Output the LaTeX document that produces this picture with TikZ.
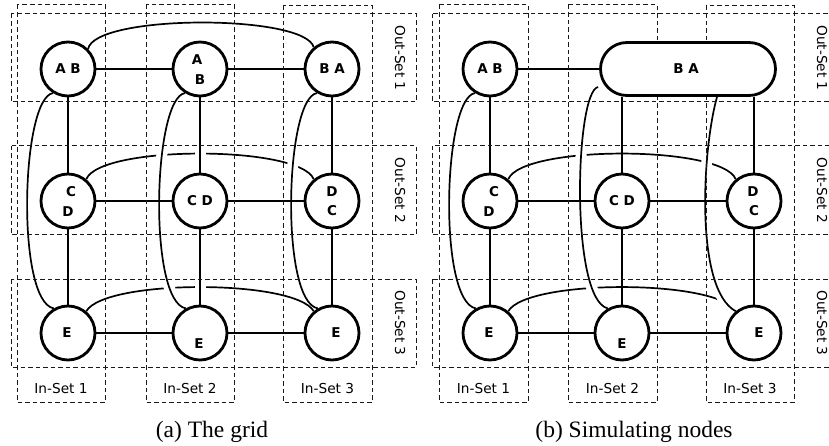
\documentclass[tikz,border=0pt]{standalone}
\usepackage{fontspec}
\setmainfont{Liberation Serif}
\newfontfamily\dv{DejaVu Sans}
\newfontfamily\dvb{DejaVu Sans Bold}
\usetikzlibrary{shapes.misc,calc}
\pgfdeclarelayer{edges}
\pgfdeclarelayer{dash}
\pgfsetlayers{edges,dash,main}
\tikzset{
  vtx/.style={circle, draw, line width=2.8pt, minimum size=54pt, inner sep=0pt, fill=white},
  wide/.style={rounded rectangle, draw, line width=2.8pt, minimum width=175pt, minimum height=53pt, inner sep=0pt, fill=white},
  lbl/.style={inner sep=0pt, font=\dvb\fontsize{13.5}{13.5}\selectfont},
  setbox/.style={draw=black!90, line width=1pt, dash pattern=on 4.5pt off 3pt},
  settxt/.style={inner sep=0pt, font=\dv\fontsize{13.7}{14}\selectfont},
  edge/.style={line width=1.7pt},
  bridge/.style={preaction={draw, white, line width=11pt}},
  captxt/.style={font=\fontsize{23.5}{26}\selectfont, anchor=base, inner sep=0pt}
}
\begin{document}
\begin{tikzpicture}[x=1pt,y=-1pt]
\useasboundingbox (0,0) rectangle (829,446);

% ---------------- (a) nodes
\node[vtx] (a11) at (68,69) {};
\node[vtx] (a12) at (200,69) {};
\node[vtx] (a13) at (332,69) {};
\node[vtx] (a21) at (68,201) {};
\node[vtx] (a22) at (200,201) {};
\node[vtx] (a23) at (332,201) {};
\node[vtx] (a31) at (68,333) {};
\node[vtx] (a32) at (200,333) {};
\node[vtx] (a33) at (332,333) {};
\node[lbl] (ta11) at (68,69) {A B};
\node[lbl] (ta12a) at (197,60) {A};
\node[lbl] (ta12b) at (200,80) {B};
\node[lbl] (ta13) at (332,69) {B A};
\node[lbl] (ta21a) at (71,192) {C};
\node[lbl] (ta21b) at (68,212) {D};
\node[lbl] (ta22) at (200,201) {C D};
\node[lbl] (ta23a) at (332,192) {D};
\node[lbl] (ta23b) at (332,211) {C};
\node[lbl] (ta31) at (67,333) {E};
\node[lbl] (ta32) at (199,344) {E};
\node[lbl] (ta33) at (336,333) {E};

% ---------------- (b) nodes
\node[vtx] (b11) at (490,69) {};
\node[wide] (b13) at (688,69) {};
\node[vtx] (b21) at (490,201) {};
\node[vtx] (b22) at (622,201) {};
\node[vtx] (b23) at (754,201) {};
\node[vtx] (b31) at (490,333) {};
\node[vtx] (b32) at (622,333) {};
\node[vtx] (b33) at (754,333) {};
\node[lbl] (tb11) at (490,69) {A B};
\node[lbl] (tb13) at (686,69) {B A};
\node[lbl] (tb21a) at (494,192) {C};
\node[lbl] (tb21b) at (489,212) {D};
\node[lbl] (tb22) at (622,201) {C D};
\node[lbl] (tb23a) at (753,192) {D};
\node[lbl] (tb23b) at (754,211) {C};
\node[lbl] (tb31) at (489,333) {E};
\node[lbl] (tb32) at (622,344) {E};
\node[lbl] (tb33) at (759,333) {E};

% ---------------- dashed sets
\begin{pgfonlayer}{dash}
\draw[setbox] (17,5) rectangle (105,402);
\draw[setbox] (146,5) rectangle (234,402);
\draw[setbox] (283,6) rectangle (372,402);
\draw[setbox] (11,14) rectangle (416,102);
\draw[setbox] (11,146) rectangle (416,235);
\draw[setbox] (11,279) rectangle (416,367);
\draw[setbox] (439,5) rectangle (528,402);
\draw[setbox] (568,5) rectangle (657,402);
\draw[setbox] (706,6) rectangle (794,402);
\draw[setbox] (432,14) rectangle (838,102);
\draw[setbox] (432,146) rectangle (838,235);
\draw[setbox] (432,279) rectangle (838,367);
\end{pgfonlayer}

\node[settxt] (ia1) at (61,389) {In-Set 1};
\node[settxt] (ia2) at (190,389) {In-Set 2};
\node[settxt] (ia3) at (327.5,389) {In-Set 3};
\node[settxt] (ib1) at (483.5,389) {In-Set 1};
\node[settxt] (ib2) at (612.5,389) {In-Set 2};
\node[settxt] (ib3) at (750,389) {In-Set 3};
\node[settxt, rotate=-90] (oa1) at (400,58) {Out-Set 1};
\node[settxt, rotate=-90] (oa2) at (400,190.5) {Out-Set 2};
\node[settxt, rotate=-90] (oa3) at (400,323) {Out-Set 3};
\node[settxt, rotate=-90] (ob1) at (822,58) {Out-Set 1};
\node[settxt, rotate=-90] (ob2) at (822,190.5) {Out-Set 2};
\node[settxt, rotate=-90] (ob3) at (822,323) {Out-Set 3};

\node[captxt] (capa) at (212,437) {(a) The grid};
\node[captxt] (capb) at (634,437) {(b) Simulating nodes};

% ---------------- edges
\begin{pgfonlayer}{edges}
% (a)
\draw[edge] (a11.45) .. controls (95,14) and (305,14) .. (a13.130);
\draw[edge] (a21.50) .. controls (100,145) and (300,145) .. (a23.130);
\draw[edge,bridge] (a13.238) .. controls +(-32,5) and +(-38,-7) .. (a33.120);
\draw[edge] (a31.50) .. controls (105,279) and (295,279) .. (a33.130);
\draw[edge] (a11.238) .. controls +(-32,5) and +(-38,-7) .. (a31.120);
\draw[edge,bridge] (a12.238) .. controls +(-32,5) and +(-38,-7) .. (a32.120);
\draw[edge,bridge] (a12) -- (a22);
\draw[edge,bridge] (a22) -- (a32);
\draw[edge] (a11) -- (a21);
\draw[edge] (a21) -- (a31);
\draw[edge] (a13) -- (a23);
\draw[edge] (a23) -- (a33);
\draw[edge] (a11) -- (a12);
\draw[edge] (a12) -- (a13);
\draw[edge] (a21) -- (a22);
\draw[edge] (a22) -- (a23);
\draw[edge] (a31) -- (a32);
\draw[edge] (a32) -- (a33);
% (b)
\draw[edge] (b21.50) .. controls (522,145) and (722,145) .. (b23.130);
\draw[edge] (b31.50) .. controls (527,279) and (717,279) .. (b33.130);
\draw[edge] (b11.238) .. controls +(-32,5) and +(-38,-7) .. (b31.120);
\draw[edge,bridge] ($(b13.center)+(-90,18)$) .. controls +(-23,5) and +(-38,-9) .. (b32.120);
\draw[edge,bridge] ($(b13.south)+(29,0)$) .. controls +(-15,54) and +(-41,-22) .. (b33.130);
\draw[edge] (b11) -- (b13);
\draw[edge] (b22 |- b13.south) -- (b22);
\draw[edge] (b23 |- b13.south) -- (b23);
\draw[edge] (b11) -- (b21);
\draw[edge] (b21) -- (b31);
\draw[edge] (b22) -- (b32);
\draw[edge] (b23) -- (b33);
\draw[edge] (b21) -- (b22);
\draw[edge] (b22) -- (b23);
\draw[edge] (b31) -- (b32);
\draw[edge] (b32) -- (b33);
\end{pgfonlayer}
\end{tikzpicture}
\end{document}
